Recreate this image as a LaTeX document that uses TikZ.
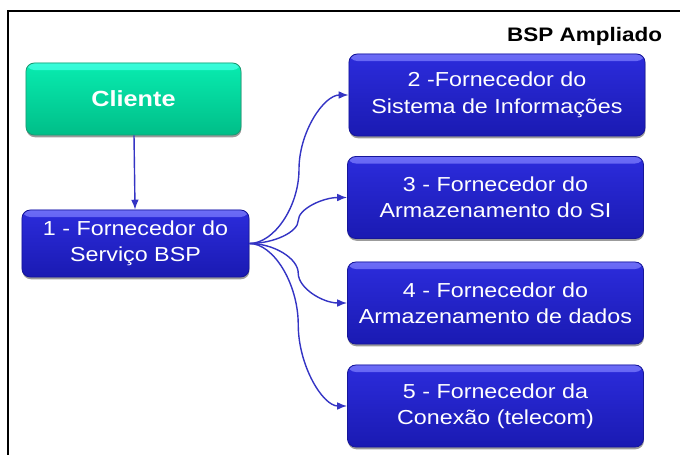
\documentclass[tikz,border=0pt]{standalone}
\usepackage{fontspec}
\setmainfont{Liberation Sans}[FakeStretch=1.15]
\usetikzlibrary{arrows.meta,shadows,calc}

\definecolor{provhi}{HTML}{6C6CF6}
\definecolor{provtop}{HTML}{2C2CDC}
\definecolor{provmid}{HTML}{2222D0}
\definecolor{provbot}{HTML}{1A1AB2}
\definecolor{provline}{HTML}{16169A}
\definecolor{clihi}{HTML}{38FCDA}
\definecolor{clitop}{HTML}{08ECB0}
\definecolor{climid}{HTML}{02DEA2}
\definecolor{clibot}{HTML}{00BE88}
\definecolor{cliline}{HTML}{1E9A74}
\definecolor{linkblue}{HTML}{3434C4}

\tikzset{
  base/.style={rounded corners=6pt, shading=axis, text=white, align=center,
    inner sep=2pt,
    drop shadow={shadow xshift=0.3pt, shadow yshift=-1.6pt, opacity=0.6, fill=black!65}},
  prov/.style={base, top color=provtop, middle color=provmid, bottom color=provbot,
    draw=provline, line width=0.6pt,
    path picture={\shade[top color=provhi, bottom color=provtop]
      (path picture bounding box.north west) rectangle
      ([yshift=-5pt]path picture bounding box.north east);},
    font=\fontsize{14.4}{18.8}\selectfont,
    minimum width=7.4cm, minimum height=2.05cm},
  cli/.style={base, top color=clitop, middle color=climid, bottom color=clibot,
    draw=cliline, line width=0.6pt,
    path picture={\shade[top color=clihi, bottom color=clitop]
      (path picture bounding box.north west) rectangle
      ([yshift=-5pt]path picture bounding box.north east);},
    font=\bfseries\fontsize{15.6}{18}\selectfont,
    minimum width=5.375cm, minimum height=1.8cm},
  link/.style={-{Latex[length=7pt,width=5.5pt]}, line width=1pt, draw=linkblue},
}

\begin{document}
\begin{tikzpicture}[x=0.025cm,y=-0.025cm]
\useasboundingbox (0,0) rectangle (680,455);
\draw[line width=1.5pt] (8,455) -- (8,11) -- (680,11);

\node[anchor=base east, font=\bfseries\fontsize{13.9}{16}\selectfont] (title) at (667,41) {BSP Ampliado};

\node[cli] (cliente) at (133.5,99) {Cliente};
\node[prov, minimum width=5.675cm, minimum height=1.675cm] (b1) at (135.5,243.5) {1 - Fornecedor do\\Serviço BSP};

\node[prov] (b2) at (497,95)    {2 -Fornecedor do\\Sistema de Informações};
\node[prov] (b3) at (495.5,197.5) {3 - Fornecedor do\\Armazenamento  do SI};
\node[prov] (b4) at (495.5,303)   {4 - Fornecedor do\\Armazenamento  de dados};
\node[prov] (b5) at (495.5,406)   {5 - Fornecedor da\\Conexão (telecom)};

\draw[link] (cliente) -- (b1);

% curved connectors out of the BSP provider
\foreach \t in {b2,b3,b4,b5}{
  \coordinate (q1) at ($(b1.east)!.25!(\t.west)$);
  \coordinate (mid) at ($(b1.east)!.5!(\t.west)$);
  \coordinate (q3) at ($(b1.east)!.75!(\t.west)$);
  \draw[link] (b1.east) .. controls (b1.east -| q1) and (mid |- q1) .. (mid)
    .. controls (mid |- q3) and (\t.west -| q3) .. (\t.west);
}
\end{tikzpicture}
\end{document}
